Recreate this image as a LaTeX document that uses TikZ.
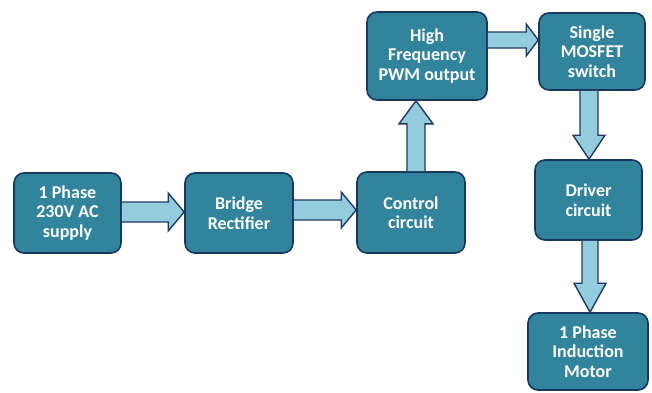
\documentclass[tikz,border=0pt]{standalone}
\usepackage{fontspec}
\setmainfont{Carlito}
\usetikzlibrary{calc}
\definecolor{boxfill}{HTML}{31849B}
\definecolor{boxline}{HTML}{17375E}
\definecolor{arrfill}{HTML}{93CDDD}
\definecolor{arrline}{HTML}{1F3864}
\newcommand\harrow[6]{%
  \filldraw[barrow] let \p1=(#1.east), \p2=(#2.west) in
   (\x1,#3pt+#4pt) -- (\x2-#6pt,#3pt+#4pt) -- (\x2-#6pt,#3pt+#5pt) -- (\x2,#3pt)
   -- (\x2-#6pt,#3pt-#5pt) -- (\x2-#6pt,#3pt-#4pt) -- (\x1,#3pt-#4pt);}
\newcommand\varrow[8]{%
  \filldraw[barrow] let \p1=(#1.#7), \p2=(#2.#8) in
   (#3pt-#4pt,\y1) -- (#3pt-#4pt,\y2-#6pt) -- (#3pt-#5pt,\y2-#6pt) -- (#3pt,\y2)
   -- (#3pt+#5pt,\y2-#6pt) -- (#3pt+#4pt,\y2-#6pt) -- (#3pt+#4pt,\y1);}
\begin{document}
\begin{tikzpicture}[x=1pt,y=1pt,
  blk/.style={draw=boxline, line width=1.6pt, fill=boxfill, rounded corners=10pt,
    text=white, font=\fontsize{18}{19.5}\selectfont\bfseries, align=center,
    inner sep=0pt},
  barrow/.style={draw=arrline, fill=arrfill, line width=1.4pt, line join=miter}]
\useasboundingbox (0,0) rectangle (652,392);
\node[blk, minimum width=107pt, minimum height=80pt] (n1) at (67.5,179) {1 Phase\\230V AC\\supply};
\node[blk, minimum width=108pt, minimum height=80pt] (n2) at (239,179) {Bridge\\Rectifier};
\node[blk, minimum width=108pt, minimum height=81pt] (n3) at (411,179.5) {Control\\circuit};
\node[blk, minimum width=120pt, minimum height=88pt] (n4) at (427,336) {High\\Frequency\\PWM output};
\node[blk, minimum width=106pt, minimum height=77pt] (n5) at (592,340.5) {Single\\MOSFET\\switch};
\node[blk, minimum width=107pt, minimum height=80pt] (n6) at (588.5,192) {Driver\\circuit};
\node[blk, minimum width=120pt, minimum height=77pt] (n7) at (588,40.5) {1 Phase\\Induction\\Motor};
\harrow{n1}{n2}{180}{10}{19}{16}
\harrow{n2}{n3}{182}{10}{18}{15}
\harrow{n4}{n5}{352}{8}{16}{12}
\varrow{n3}{n4}{416}{9}{17}{23}{north}{south}
\varrow{n5}{n6}{589}{9}{16}{-24}{south}{north}
\varrow{n6}{n7}{590}{8}{16}{-29}{south}{north}
\end{tikzpicture}
\end{document}
